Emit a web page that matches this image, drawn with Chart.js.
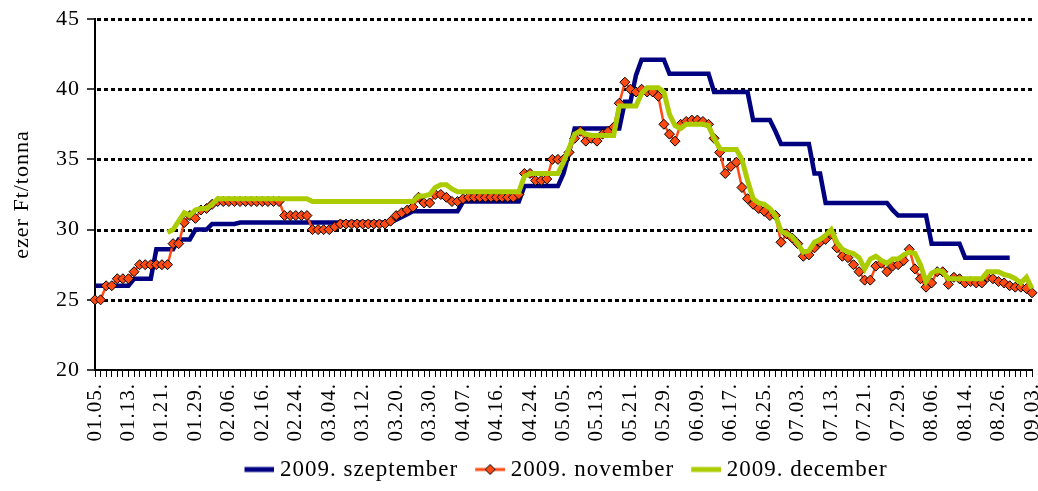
<!DOCTYPE html>
<html><head><meta charset="utf-8">
<script src="https://cdn.jsdelivr.net/npm/chart.js@4.4.1/dist/chart.umd.min.js"></script>
<style>html,body{margin:0;padding:0;background:#fff;}</style>
</head><body>
<canvas id="c" width="1038" height="491"></canvas>
<script>
const categories = [
"01.05.","01.06.","01.07.","01.08.","01.09.","01.12.","01.13.","01.14.","01.15.","01.16.",
"01.19.","01.20.","01.21.","01.22.","01.23.","01.26.","01.27.","01.28.","01.29.","01.30.",
"02.02.","02.03.","02.04.","02.05.","02.06.","02.09.","02.10.","02.11.","02.12.","02.13.",
"02.16.","02.17.","02.18.","02.19.","02.20.","02.23.","02.24.","02.25.","02.26.","02.27.",
"03.02.","03.03.","03.04.","03.05.","03.06.","03.09.","03.10.","03.11.","03.12.","03.13.",
"03.16.","03.17.","03.18.","03.19.","03.20.","03.23.","03.24.","03.25.","03.26.","03.27.",
"03.30.","03.31.","04.01.","04.02.","04.03.","04.06.","04.07.","04.08.","04.09.","04.10.",
"04.14.","04.15.","04.16.","04.17.","04.20.","04.21.","04.22.","04.23.","04.24.","04.27.",
"04.28.","04.29.","04.30.","05.04.","05.05.","05.06.","05.07.","05.08.","05.11.","05.12.",
"05.13.","05.14.","05.15.","05.18.","05.19.","05.20.","05.21.","05.22.","05.25.","05.26.",
"05.27.","05.28.","05.29.","06.02.","06.03.","06.04.","06.05.","06.08.","06.09.","06.10.",
"06.11.","06.12.","06.15.","06.16.","06.17.","06.18.","06.19.","06.22.","06.23.","06.24.",
"06.25.","06.26.","06.29.","06.30.","07.01.","07.02.","07.03.","07.06.","07.07.","07.08.",
"07.09.","07.10.","07.13.","07.14.","07.15.","07.16.","07.17.","07.20.","07.21.","07.22.",
"07.23.","07.24.","07.27.","07.28.","07.29.","07.30.","07.31.","08.03.","08.04.","08.05.",
"08.06.","08.07.","08.10.","08.11.","08.12.","08.13.","08.14.","08.17.","08.18.","08.19.",
"08.24.","08.25.","08.26.","08.27.","08.28.","08.31.","09.01.","09.02.","09.03."
];
const tickLabels = [
"01.05.","01.13.","01.21.","01.29.","02.06.","02.16.","02.24.","03.04.","03.12.","03.20.",
"03.30.","04.07.","04.16.","04.24.","05.05.","05.13.","05.21.","05.29.","06.09.","06.17.",
"06.25.","07.03.","07.13.","07.21.","07.29.","08.06.","08.14.","08.26.","09.03."
];
const septValues = [
26.0,26.0,26.0,26.0,26.0,26.0,26.0,26.5,26.5,26.5,
26.5,28.6,28.6,28.6,28.6,29.3,29.3,29.3,30.0,30.0,
30.0,30.4,30.4,30.4,30.4,30.4,30.5,30.5,30.5,30.5,
30.5,30.5,30.5,30.5,30.5,30.5,30.5,30.5,30.5,30.5,
30.5,30.5,30.5,30.5,30.5,30.5,30.5,30.5,30.5,30.5,
30.5,30.5,30.5,30.5,30.7,30.9,31.1,31.3,31.3,31.3,
31.3,31.3,31.3,31.3,31.3,31.3,32.0,32.0,32.0,32.0,
32.0,32.0,32.0,32.0,32.0,32.0,32.0,33.1,33.1,33.1,
33.1,33.1,33.1,33.1,34.0,35.5,37.2,37.2,37.2,37.2,
37.2,37.2,37.2,37.2,37.2,39.1,39.1,41.0,42.1,42.1,
42.1,42.1,42.1,41.1,41.1,41.1,41.1,41.1,41.1,41.1,
41.1,39.8,39.8,39.8,39.8,39.8,39.8,39.8,37.8,37.8,
37.8,37.8,37.0,36.1,36.1,36.1,36.1,36.1,36.1,34.0,
34.0,31.9,31.9,31.9,31.9,31.9,31.9,31.9,31.9,31.9,
31.9,31.9,31.9,31.4,31.0,31.0,31.0,31.0,31.0,31.0,
29.0,29.0,29.0,29.0,29.0,29.0,28.0,28.0,28.0,28.0,
28.0,28.0,28.0,28.0,28.0,null,null,null,null
];
const novValues = [
25.0,25.0,26.0,26.0,26.5,26.5,26.5,27.0,27.5,27.5,
27.5,27.5,27.5,27.5,29.0,29.0,30.5,31.0,30.8,31.4,
31.5,31.8,32.0,32.0,32.0,32.0,32.0,32.0,32.0,32.0,
32.0,32.0,32.0,32.0,31.0,31.0,31.0,31.0,31.0,30.0,
30.0,30.0,30.0,30.2,30.4,30.4,30.4,30.4,30.4,30.4,
30.4,30.4,30.4,30.6,31.0,31.2,31.4,31.6,32.3,31.9,
31.9,32.5,32.5,32.3,32.0,32.0,32.2,32.3,32.3,32.3,
32.3,32.3,32.3,32.3,32.3,32.3,32.5,34.0,34.0,33.5,
33.5,33.6,35.0,35.0,35.0,35.5,36.5,37.0,36.3,36.5,
36.3,36.8,37.0,37.3,39.0,40.5,40.0,39.8,40.0,39.8,
39.8,39.5,37.5,36.8,36.3,37.5,37.7,37.8,37.8,37.7,
37.5,36.5,35.5,34.0,34.5,34.8,33.0,32.2,31.8,31.5,
31.3,31.0,31.0,29.1,29.7,29.4,29.0,28.1,28.2,28.7,
29.1,29.3,29.7,28.7,28.1,28.0,27.5,27.0,26.4,26.4,
27.4,27.6,27.0,27.4,27.5,27.8,28.6,27.2,26.5,25.9,
26.2,27.0,27.0,26.1,26.6,26.5,26.2,26.3,26.2,26.2,
26.6,26.5,26.3,26.2,26.0,25.9,25.9,25.8,25.5
];
const decValues = [
null,null,null,null,null,null,null,null,null,null,
null,null,null,29.8,30.0,30.6,31.2,31.0,31.4,31.5,
31.5,31.8,32.2,32.2,32.2,32.2,32.2,32.2,32.2,32.2,
32.2,32.2,32.2,32.2,32.2,32.2,32.2,32.2,32.2,32.0,
32.0,32.0,32.0,32.0,32.0,32.0,32.0,32.0,32.0,32.0,
32.0,32.0,32.0,32.0,32.0,32.0,32.0,32.0,32.4,32.4,
32.5,33.0,33.2,33.2,32.9,32.7,32.7,32.7,32.7,32.7,
32.7,32.7,32.7,32.7,32.7,32.7,32.7,33.8,34.0,34.0,
34.0,34.0,34.0,34.0,34.8,35.8,36.8,37.0,36.8,36.7,
36.7,36.7,36.7,36.7,38.8,38.8,38.8,38.8,39.7,40.1,
40.1,40.1,39.8,38.2,37.4,37.2,37.5,37.5,37.5,37.5,
37.4,36.5,35.8,35.7,35.7,35.7,35.0,33.5,32.2,31.9,
31.8,31.5,31.0,29.9,29.7,29.5,29.0,28.4,28.5,29.1,
29.3,29.6,30.0,29.1,28.6,28.4,28.3,28.0,27.2,27.9,
28.1,27.8,27.6,27.9,27.9,28.2,28.4,28.3,27.5,26.3,
26.9,27.1,27.0,26.5,26.5,26.5,26.5,26.5,26.5,26.5,
27.0,27.0,27.0,26.8,26.7,26.5,26.2,26.6,25.8
];
const seriesNames = ["2009. szeptember","2009. november","2009. december"];
const seriesColors = ["#000080","#FF4A14","#AACC00"];
const yAxisTitle = "ezer Ft/tonna";

const FONT_FAMILY = "'Liberation Serif','DejaVu Serif',serif";

// legend swatch: transparent 5px lead, then a 30px line (and a diamond for the marker series)
function legendIcon(color, diamond, lw) {
  const c = document.createElement('canvas');
  c.width = 41; c.height = 14;
  const g = c.getContext('2d');
  g.strokeStyle = color; g.lineWidth = lw;
  g.beginPath(); g.moveTo(11, 7); g.lineTo(41, 7); g.stroke();
  if (diamond) {
    g.beginPath(); g.moveTo(26, 2); g.lineTo(31, 7); g.lineTo(26, 12); g.lineTo(21, 7); g.closePath();
    g.fillStyle = color; g.fill(); g.lineWidth = 1; g.strokeStyle = '#000'; g.stroke();
  }
  return c;
}
const icons = [legendIcon(seriesColors[0], false, 5), legendIcon(seriesColors[1], true, 3), legendIcon(seriesColors[2], false, 5)];

function applySpacing(chart) { try { chart.ctx.letterSpacing = '1px'; } catch (e) {} }
const textSpacing = {
  id: 'textSpacing',
  beforeUpdate: applySpacing,
  beforeLayout: applySpacing,
  beforeDraw: applySpacing
};
const dashedGrid = {
  id: 'dashedGrid',
  beforeDatasetsDraw(chart) {
    const {ctx, chartArea: a, scales: {y}} = chart;
    ctx.save();
    ctx.strokeStyle = '#000'; ctx.lineWidth = 3; ctx.setLineDash([4, 3]);
    y.ticks.forEach(t => {
      if (t.value === y.min) return;
      const py = Math.round(y.getPixelForValue(t.value)) + 0.5;
      ctx.beginPath(); ctx.moveTo(a.left + 2, py); ctx.lineTo(a.right, py); ctx.stroke();
    });
    ctx.restore();
  }
};

new Chart(document.getElementById('c'), {
  type: 'line',
  data: {
    labels: categories,
    datasets: [
      {label: seriesNames[0], data: septValues, borderColor: seriesColors[0], backgroundColor: seriesColors[0], borderWidth: 4.5, pointRadius: 0, order: 3},
      {label: seriesNames[1], data: novValues, borderColor: seriesColors[1], backgroundColor: seriesColors[1], borderWidth: 2.5,
        pointStyle: 'rectRot', pointRadius: 5, pointBackgroundColor: seriesColors[1], pointBorderColor: '#000', pointBorderWidth: 1, order: 2},
      {label: seriesNames[2], data: decValues, borderColor: seriesColors[2], backgroundColor: seriesColors[2], borderWidth: 5, pointRadius: 0, order: 1}
    ]
  },
  plugins: [textSpacing, dashedGrid],
  options: {
    responsive: false, animation: false, devicePixelRatio: 1,
    layout: {padding: {left: 0, right: 5, top: 19, bottom: 0}},
    plugins: {
      tooltip: {enabled: false},
      legend: {
        position: 'bottom', fullSize: false,
        labels: {
          usePointStyle: true, pointStyleWidth: 29, padding: 12, color: '#000',
          font: {family: FONT_FAMILY, size: 23},
          generateLabels: chart => chart.data.datasets.map((ds, i) => ({
            text: ds.label, pointStyle: icons[i], fillStyle: ds.borderColor, strokeStyle: ds.borderColor,
            lineWidth: 0, hidden: false, datasetIndex: i, fontColor: '#000'
          }))
        }
      }
    },
    scales: {
      x: {
        type: 'category', offset: false,
        grid: {drawOnChartArea: false, drawTicks: true, tickLength: 7, tickColor: '#000', tickWidth: 1},
        border: {display: true, color: '#000', width: 2},
        ticks: {autoSkip: false, maxRotation: 90, minRotation: 90, padding: 6, color: '#000',
          font: {family: FONT_FAMILY, size: 21},
          callback: (v, i) => tickLabels.includes(categories[i]) ? categories[i] : ''},
        afterFit: s => { s.height = 76; s.paddingLeft = 0; s.paddingRight = 0; }
      },
      y: {
        min: 20, max: 45,
        ticks: {stepSize: 5, color: '#000', font: {family: FONT_FAMILY, size: 22}, padding: 7},
        grid: {drawOnChartArea: false, color: '#000', lineWidth: 2, tickLength: 8, tickColor: '#000', tickWidth: 1.5},
        border: {display: true, color: '#000', width: 2},
        title: {display: true, text: yAxisTitle, color: '#000', font: {family: FONT_FAMILY, size: 22}, padding: {top: 9, bottom: 0}},
        afterFit: s => { s.width = 95; s.paddingTop = 0; s.paddingBottom = 0; }
      }
    }
  }
});
</script>
</body></html>
